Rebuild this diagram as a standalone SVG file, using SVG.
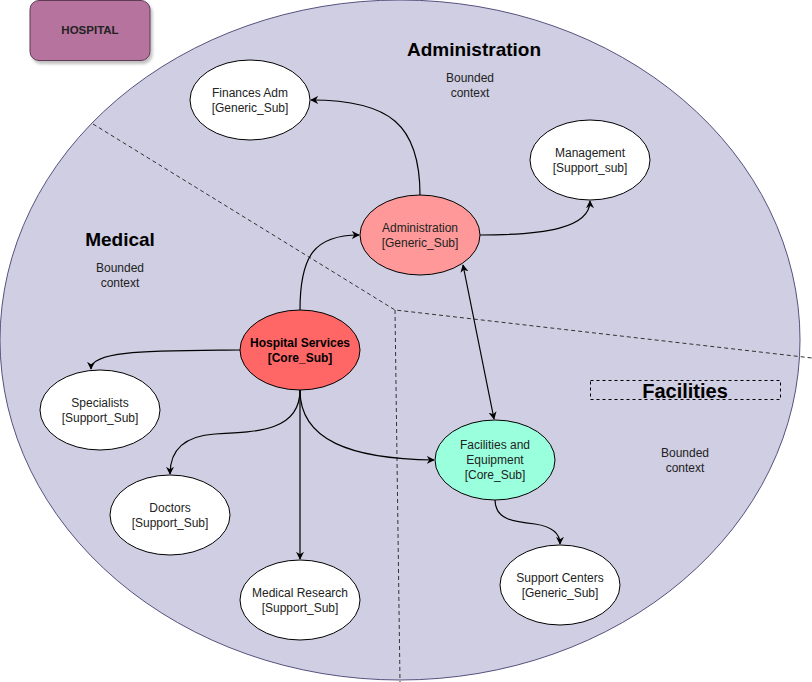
<svg xmlns="http://www.w3.org/2000/svg" width="812" height="682" viewBox="0 0 812 682">
<defs>
<marker id="arr" viewBox="0 0 10 10" refX="9" refY="5" markerWidth="8" markerHeight="8" orient="auto-start-reverse" markerUnits="userSpaceOnUse">
<path d="M0,0 L10,5 L0,10 L3,5 Z" fill="#000"/>
</marker>
<filter id="sh" x="-10%" y="-10%" width="130%" height="140%">
<feDropShadow dx="2" dy="3" stdDeviation="1.5" flood-color="#000" flood-opacity="0.25"/>
</filter>
</defs>
<style>
text{font-family:"Liberation Sans",Arial,sans-serif;fill:#222;text-anchor:middle}
.n{font-size:12px}
.node ellipse{stroke:#000;stroke-width:1}
.w{fill:#fff}
.c{fill:none;stroke:#000;stroke-width:1.2}
.d{fill:none;stroke:#333;stroke-width:1;stroke-dasharray:4 3}
.t{font-weight:bold;fill:#000}
</style>
<rect width="812" height="682" fill="#fff"/>
<ellipse cx="400" cy="340" rx="400" ry="340" fill="#d0cee2" stroke="#56517e" stroke-width="1"/>
<g id="hospital">
<rect x="30" y="0.5" width="120" height="60" rx="9" fill="#b5739d" stroke="#5e3a54" filter="url(#sh)"/>
<text x="90" y="34" class="t" style="font-size:11.5px;fill:#222">HOSPITAL</text>
</g>
<g id="dividers">
<path class="d" d="M93,124 L395,310 L812,358 M395,310 L400,682"/>
</g>
<g id="labels">
<text x="474" y="56" class="t" style="font-size:19px">Administration</text>
<text x="470" y="82" class="n">Bounded</text>
<text x="470" y="97" class="n">context</text>
<text x="120" y="246" class="t" style="font-size:19px">Medical</text>
<text x="120" y="272" class="n">Bounded</text>
<text x="120" y="287" class="n">context</text>
<rect x="590.5" y="380.5" width="190" height="19" fill="none" stroke="#000" stroke-dasharray="3 3"/>
<text x="685" y="398" class="t" style="font-size:20px">Facilities</text>
<text x="685" y="457" class="n">Bounded</text>
<text x="685" y="472" class="n">context</text>
</g>
<g id="connectors">
<path class="c" marker-end="url(#arr)" d="M420,195 C420,125 390,100 311,100"/>
<path class="c" marker-end="url(#arr)" d="M480,235 C545,235 590,228 590,201"/>
<path class="c" marker-end="url(#arr)" d="M300,310 C300,255 315,235 359,235"/>
<path class="c" marker-start="url(#arr)" marker-end="url(#arr)" d="M463,265 L494,419"/>
<path class="c" marker-end="url(#arr)" d="M240,350 C150,351 91,350 91,369"/>
<path class="c" marker-end="url(#arr)" d="M300,390 C300,430 260,432 215,434 C185,436 170,450 170,474"/>
<path class="c" marker-end="url(#arr)" d="M300,390 L300,559"/>
<path class="c" marker-end="url(#arr)" d="M300,390 C300,440 350,459 434,460"/>
<path class="c" marker-end="url(#arr)" d="M495,500 C495,520 515,522 535,524 C555,527 560,535 560,544"/>
</g>
<g id="finances" class="node"><ellipse class="w" cx="250" cy="100" rx="60" ry="40"/><text class="n" x="250" y="97">Finances Adm</text><text class="n" x="250" y="112">[Generic_Sub]</text></g>
<g id="management" class="node"><ellipse class="w" cx="590" cy="160" rx="60" ry="40"/><text class="n" x="590" y="157">Management</text><text class="n" x="590" y="172">[Support_sub]</text></g>
<g id="administration" class="node"><ellipse fill="#ff9999" cx="420" cy="235" rx="60" ry="40"/><text class="n" x="420" y="232">Administration</text><text class="n" x="420" y="247">[Generic_Sub]</text></g>
<g id="hospital-services" class="node"><ellipse fill="#ff6666" cx="300" cy="350" rx="60" ry="40"/><text class="n t" x="300" y="347">Hospital Services</text><text class="n t" x="300" y="362">[Core_Sub]</text></g>
<g id="specialists" class="node"><ellipse class="w" cx="100" cy="410" rx="60" ry="40"/><text class="n" x="100" y="407">Specialists</text><text class="n" x="100" y="422">[Support_Sub]</text></g>
<g id="doctors" class="node"><ellipse class="w" cx="170" cy="515" rx="60" ry="40"/><text class="n" x="170" y="512">Doctors</text><text class="n" x="170" y="527">[Support_Sub]</text></g>
<g id="medical-research" class="node"><ellipse class="w" cx="300" cy="600" rx="60" ry="40"/><text class="n" x="300" y="597">Medical Research</text><text class="n" x="300" y="612">[Support_Sub]</text></g>
<g id="facilities-equipment" class="node"><ellipse fill="#99ffdd" cx="495" cy="460" rx="60" ry="40"/><text class="n" x="495" y="449">Facilities and</text><text class="n" x="495" y="464">Equipment</text><text class="n" x="495" y="479">[Core_Sub]</text></g>
<g id="support-centers" class="node"><ellipse class="w" cx="560" cy="585" rx="60" ry="40"/><text class="n" x="560" y="582">Support Centers</text><text class="n" x="560" y="597">[Generic_Sub]</text></g>
</svg>
